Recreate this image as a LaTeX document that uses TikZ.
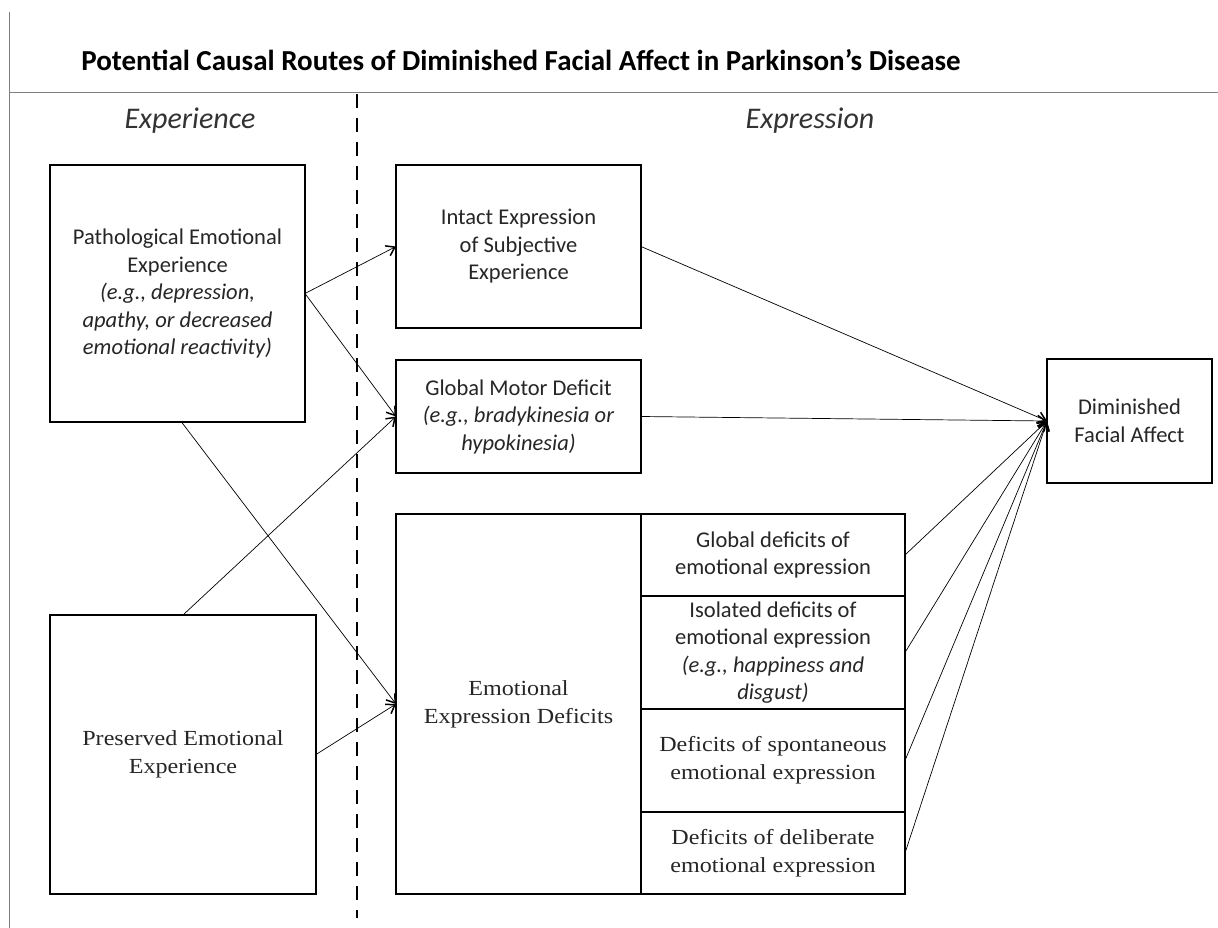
\documentclass[tikz,border=0pt]{standalone}
\usepackage{fontspec}
\setmainfont{Carlito}
\newfontfamily\serifface[FakeStretch=1.12]{Liberation Serif}
\usepackage{tikz}
\usetikzlibrary{positioning,arrows.meta}

\begin{document}
\begin{tikzpicture}[x=1pt, y=-1pt,
        box/.style={rectangle, draw=black, line width=2.4pt, fill=white, inner sep=0pt, outer sep=0pt, align=center, text=black!85, font=\fontsize{22.5}{27.5}\selectfont},
        serifbox/.style={box, font=\serifface\fontsize{21.5}{28}\selectfont},
        subbox/.style={box, line width=2pt, minimum width=264pt},
        arrow/.style={-{Straight Barb[length=8pt,width=11pt,line width=1.5pt]}, line width=0.7pt},
        heading/.style={font=\fontsize{30}{32}\selectfont\itshape, text=black!80},
        title/.style={font=\fontsize{29}{32}\selectfont\bfseries}
    ]
    \useasboundingbox (0,0) rectangle (1218,928);

    % Frame and divider
    \draw[gray, line width=0.8pt] (9,12) -- (9,928);
    \draw[gray, line width=0.8pt] (9,92) -- (1218,92);
    \draw[line width=2.8pt, dash pattern=on 14pt off 10pt] (357,94) -- (357,918);

    % Title and column headings
    \node[title] (ttl) at (521,60) {Potential Causal Routes of Diminished Facial Affect in Parkinson’s Disease};
    \node[heading] (hexp) at (190,121) {Experience};
    \node[heading] (hexpr) at (810,121) {Expression};

    % Experience
    \node[box, minimum width=255pt, minimum height=257pt] (pee) at (177.5,293.5) {Pathological Emotional\\ Experience\\ \textit{(e.g., depression,}\\ \textit{apathy, or decreased}\\ \textit{emotional reactivity)}};
    \node[serifbox, minimum width=266pt, minimum height=279pt] (pre) at (183,754.5) {Preserved Emotional\\ Experience};

    % Expression
    \node[box, minimum width=245pt, minimum height=163pt] (ies) at (518.5,246.5) {Intact Expression\\ of Subjective\\ Experience};
    \node[box, minimum width=245pt, minimum height=113pt] (gmd) at (518.5,416.5) {Global Motor Deficit\\ \textit{(e.g., bradykinesia or}\\ \textit{hypokinesia)}};
    \node[serifbox, minimum width=245pt, minimum height=380pt] (eed) at (518.5,704) {Emotional\\ Expression Deficits};

    % Kinds of expression deficits
    \node[subbox, minimum height=82pt, anchor=north west] (d1) at (eed.north east) {Global deficits of\\ emotional expression};
    \node[subbox, minimum height=113pt, below=0pt of d1] (d2) {Isolated deficits of\\ emotional expression\\ \textit{(e.g., happiness and}\\ \textit{disgust)}};
    \node[subbox, serifbox, line width=2pt, minimum height=103pt, below=0pt of d2] (d3) {Deficits of spontaneous\\ emotional expression};
    \node[subbox, serifbox, line width=2pt, minimum height=82pt, below=0pt of d3] (d4) {Deficits of deliberate\\ emotional expression};

    % Outcome
    \node[box, minimum width=165pt, minimum height=124pt] (dfa) at (1129.5,421) {Diminished\\ Facial Affect};

    % Routes
    \draw[arrow] (pee.east) -- (ies.west);
    \draw[arrow] (pee.east) -- (gmd.west);
    \draw[arrow] ([xshift=4pt]pee.south) -- (eed.west);
    \draw[arrow] (pre.north) -- (gmd.west);
    \draw[arrow] (pre.east) -- (eed.west);
    \draw[arrow] (ies.east) -- (dfa.west);
    \draw[arrow] (gmd.east) -- (dfa.west);
    \foreach \d in {d1,d2,d3,d4} {
        \draw[arrow] (\d.east) -- (dfa.west);
    }
\end{tikzpicture}
\end{document}
